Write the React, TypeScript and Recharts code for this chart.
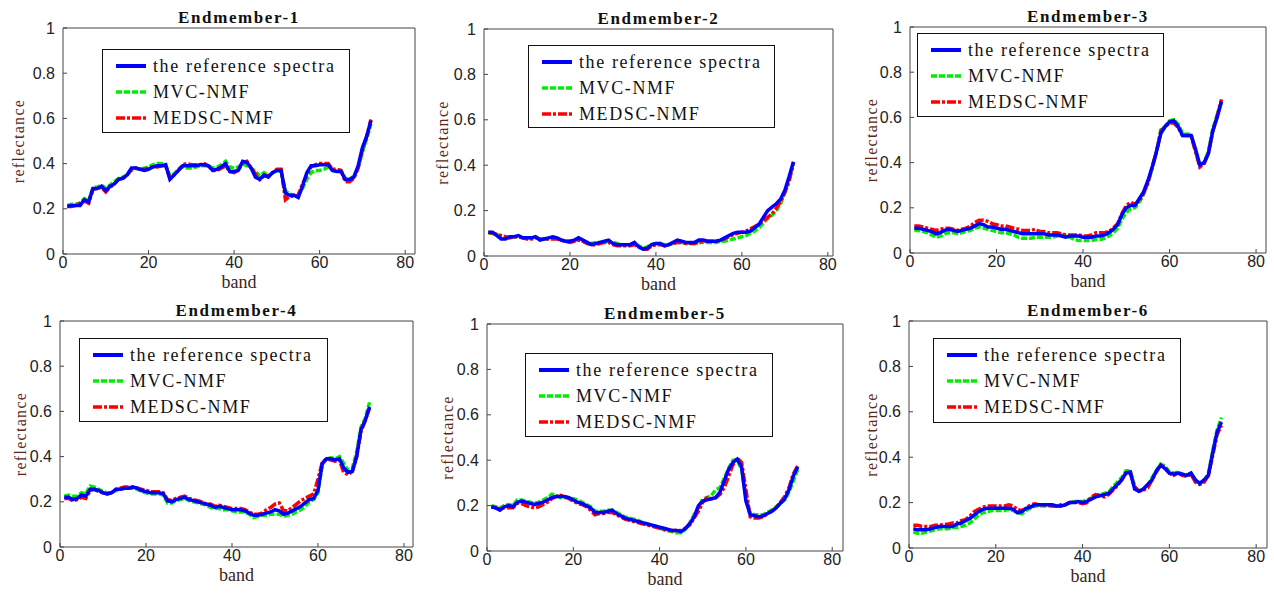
import React from 'react';
import { LineChart, Line, XAxis, YAxis } from 'recharts';

// ---------- data ----------
const bands = Array.from({ length: 72 }, (_, i) => i + 1);

const titles = ['Endmember-1', 'Endmember-2', 'Endmember-3', 'Endmember-4', 'Endmember-5', 'Endmember-6'];
const seriesNames = ['the reference spectra', 'MVC-NMF', 'MEDSC-NMF'];
const xTicks = [0, 20, 40, 60, 80];
const yTicks = [0, 0.2, 0.4, 0.6, 0.8, 1];

const ref1 = [0.21,0.215,0.215,0.215,0.24,0.23,0.29,0.29,0.30,0.28,0.30,0.31,0.33,0.335,0.35,0.38,0.38,0.375,0.37,0.375,0.385,0.39,0.39,0.395,0.33,0.35,0.37,0.39,0.39,0.39,0.39,0.395,0.395,0.39,0.37,0.375,0.385,0.40,0.365,0.365,0.37,0.41,0.405,0.38,0.34,0.33,0.35,0.34,0.36,0.37,0.37,0.27,0.26,0.26,0.25,0.30,0.36,0.39,0.39,0.395,0.395,0.395,0.37,0.365,0.365,0.33,0.33,0.34,0.39,0.47,0.52,0.59];
const mvc1 = [0.215,0.22,0.22,0.225,0.245,0.235,0.295,0.295,0.305,0.29,0.305,0.32,0.335,0.34,0.35,0.37,0.38,0.375,0.38,0.385,0.395,0.40,0.40,0.395,0.345,0.355,0.375,0.385,0.38,0.38,0.385,0.39,0.39,0.39,0.38,0.385,0.395,0.41,0.385,0.38,0.385,0.40,0.39,0.38,0.365,0.345,0.36,0.345,0.36,0.37,0.365,0.28,0.265,0.26,0.26,0.29,0.33,0.36,0.37,0.37,0.375,0.385,0.37,0.37,0.37,0.335,0.33,0.345,0.38,0.45,0.51,0.575];
const medsc1 = [0.21,0.21,0.215,0.225,0.235,0.225,0.285,0.29,0.295,0.275,0.295,0.31,0.33,0.335,0.35,0.375,0.38,0.375,0.375,0.38,0.385,0.385,0.39,0.39,0.335,0.35,0.37,0.395,0.40,0.395,0.395,0.395,0.40,0.39,0.37,0.37,0.38,0.39,0.365,0.36,0.37,0.405,0.41,0.38,0.355,0.33,0.345,0.345,0.36,0.375,0.375,0.24,0.255,0.255,0.26,0.31,0.35,0.385,0.395,0.40,0.40,0.40,0.375,0.375,0.37,0.32,0.32,0.335,0.38,0.46,0.52,0.595];

const ref2 = [0.105,0.105,0.09,0.075,0.075,0.085,0.085,0.09,0.08,0.08,0.08,0.085,0.07,0.075,0.08,0.085,0.08,0.07,0.065,0.065,0.07,0.08,0.07,0.06,0.05,0.055,0.06,0.065,0.07,0.055,0.05,0.05,0.05,0.05,0.06,0.04,0.03,0.035,0.05,0.055,0.055,0.045,0.05,0.06,0.07,0.065,0.06,0.06,0.06,0.07,0.07,0.065,0.065,0.065,0.07,0.08,0.09,0.10,0.105,0.105,0.105,0.11,0.125,0.14,0.17,0.20,0.215,0.23,0.25,0.29,0.35,0.415];
const mvc2 = [0.10,0.10,0.095,0.085,0.08,0.085,0.085,0.085,0.08,0.08,0.08,0.08,0.075,0.075,0.075,0.08,0.075,0.07,0.065,0.065,0.07,0.07,0.065,0.06,0.055,0.06,0.06,0.06,0.065,0.06,0.055,0.05,0.05,0.05,0.055,0.045,0.035,0.04,0.05,0.055,0.055,0.05,0.05,0.055,0.06,0.06,0.055,0.055,0.055,0.06,0.06,0.06,0.06,0.06,0.065,0.065,0.07,0.075,0.08,0.085,0.09,0.10,0.11,0.125,0.145,0.165,0.18,0.20,0.23,0.28,0.34,0.41];
const medsc2 = [0.105,0.10,0.095,0.09,0.085,0.08,0.085,0.085,0.08,0.075,0.075,0.08,0.075,0.075,0.075,0.075,0.075,0.07,0.065,0.06,0.065,0.07,0.065,0.055,0.05,0.05,0.055,0.06,0.06,0.05,0.045,0.045,0.045,0.045,0.05,0.04,0.03,0.03,0.045,0.05,0.05,0.045,0.05,0.055,0.06,0.06,0.055,0.055,0.055,0.06,0.065,0.065,0.065,0.065,0.07,0.075,0.085,0.095,0.10,0.105,0.11,0.12,0.13,0.14,0.155,0.17,0.185,0.21,0.24,0.28,0.33,0.41];

const ref3 = [0.11,0.11,0.105,0.10,0.095,0.085,0.09,0.10,0.105,0.10,0.095,0.10,0.105,0.11,0.12,0.13,0.125,0.115,0.115,0.11,0.105,0.105,0.10,0.095,0.09,0.085,0.085,0.085,0.085,0.085,0.085,0.08,0.08,0.08,0.075,0.07,0.075,0.075,0.075,0.07,0.07,0.07,0.075,0.075,0.08,0.09,0.105,0.125,0.17,0.20,0.21,0.21,0.24,0.27,0.32,0.38,0.45,0.53,0.56,0.58,0.585,0.56,0.52,0.52,0.52,0.46,0.39,0.40,0.44,0.54,0.60,0.67];
const mvc3 = [0.10,0.10,0.095,0.09,0.08,0.07,0.075,0.085,0.09,0.09,0.085,0.09,0.095,0.10,0.11,0.115,0.11,0.105,0.10,0.095,0.09,0.09,0.085,0.08,0.07,0.065,0.065,0.065,0.07,0.07,0.07,0.07,0.07,0.075,0.08,0.075,0.07,0.06,0.055,0.055,0.055,0.055,0.06,0.06,0.065,0.075,0.09,0.11,0.15,0.18,0.195,0.20,0.225,0.26,0.31,0.38,0.45,0.545,0.56,0.585,0.59,0.57,0.53,0.525,0.525,0.45,0.39,0.40,0.45,0.55,0.61,0.67];
const medsc3 = [0.12,0.12,0.115,0.11,0.105,0.10,0.105,0.11,0.11,0.105,0.10,0.105,0.11,0.12,0.135,0.145,0.145,0.14,0.13,0.125,0.12,0.12,0.115,0.11,0.105,0.10,0.10,0.10,0.105,0.095,0.095,0.09,0.09,0.09,0.085,0.08,0.08,0.08,0.08,0.075,0.075,0.08,0.09,0.09,0.09,0.095,0.11,0.13,0.175,0.21,0.225,0.215,0.23,0.265,0.31,0.38,0.45,0.54,0.56,0.575,0.575,0.555,0.52,0.52,0.515,0.45,0.38,0.395,0.445,0.54,0.605,0.68];

const ref4 = [0.22,0.22,0.21,0.215,0.23,0.225,0.255,0.255,0.25,0.24,0.235,0.24,0.255,0.255,0.26,0.26,0.265,0.26,0.25,0.245,0.24,0.24,0.24,0.235,0.205,0.20,0.21,0.215,0.22,0.21,0.205,0.20,0.195,0.19,0.185,0.175,0.18,0.175,0.17,0.165,0.165,0.165,0.16,0.15,0.14,0.14,0.145,0.15,0.155,0.165,0.16,0.145,0.15,0.16,0.17,0.18,0.195,0.21,0.215,0.25,0.37,0.39,0.39,0.385,0.39,0.35,0.33,0.335,0.40,0.52,0.56,0.62];
const mvc4 = [0.225,0.23,0.225,0.225,0.24,0.235,0.27,0.265,0.255,0.245,0.24,0.24,0.25,0.255,0.26,0.26,0.26,0.255,0.245,0.24,0.235,0.235,0.235,0.23,0.195,0.195,0.205,0.21,0.215,0.205,0.20,0.195,0.19,0.185,0.175,0.17,0.17,0.165,0.165,0.16,0.155,0.155,0.155,0.145,0.13,0.135,0.14,0.14,0.145,0.145,0.145,0.135,0.14,0.145,0.155,0.165,0.18,0.20,0.21,0.24,0.365,0.39,0.395,0.39,0.40,0.37,0.34,0.35,0.42,0.53,0.57,0.64];
const medsc4 = [0.215,0.215,0.205,0.21,0.22,0.215,0.25,0.255,0.245,0.24,0.235,0.24,0.255,0.26,0.265,0.265,0.265,0.26,0.255,0.25,0.245,0.245,0.245,0.24,0.21,0.205,0.215,0.22,0.225,0.215,0.21,0.205,0.20,0.19,0.19,0.18,0.185,0.18,0.175,0.17,0.17,0.17,0.165,0.155,0.145,0.145,0.15,0.165,0.175,0.19,0.195,0.16,0.16,0.175,0.19,0.205,0.215,0.225,0.235,0.30,0.375,0.39,0.385,0.38,0.385,0.33,0.32,0.335,0.40,0.51,0.56,0.615];

const ref5 = [0.195,0.19,0.18,0.195,0.20,0.195,0.215,0.22,0.215,0.21,0.205,0.21,0.215,0.225,0.235,0.24,0.24,0.24,0.235,0.225,0.215,0.21,0.20,0.19,0.17,0.17,0.17,0.175,0.18,0.165,0.155,0.145,0.14,0.135,0.13,0.125,0.12,0.115,0.11,0.105,0.10,0.095,0.09,0.09,0.085,0.10,0.12,0.15,0.20,0.22,0.225,0.23,0.235,0.26,0.31,0.36,0.39,0.405,0.37,0.22,0.16,0.155,0.15,0.155,0.165,0.175,0.19,0.21,0.23,0.27,0.33,0.37];
const mvc5 = [0.20,0.195,0.19,0.20,0.205,0.20,0.225,0.225,0.22,0.215,0.21,0.215,0.225,0.235,0.25,0.245,0.235,0.235,0.235,0.23,0.225,0.215,0.205,0.195,0.175,0.175,0.175,0.18,0.18,0.17,0.16,0.15,0.145,0.14,0.135,0.125,0.12,0.115,0.11,0.10,0.095,0.09,0.085,0.08,0.08,0.095,0.125,0.16,0.19,0.23,0.235,0.245,0.27,0.28,0.32,0.365,0.40,0.40,0.36,0.24,0.165,0.16,0.16,0.16,0.17,0.18,0.195,0.21,0.225,0.26,0.31,0.36];
const medsc5 = [0.195,0.19,0.185,0.19,0.19,0.19,0.21,0.21,0.20,0.195,0.19,0.195,0.205,0.215,0.23,0.24,0.245,0.24,0.23,0.22,0.21,0.205,0.195,0.18,0.16,0.165,0.165,0.17,0.17,0.16,0.15,0.14,0.135,0.13,0.125,0.12,0.115,0.11,0.105,0.10,0.095,0.09,0.09,0.09,0.09,0.10,0.115,0.145,0.175,0.215,0.235,0.23,0.235,0.25,0.28,0.33,0.38,0.41,0.39,0.27,0.15,0.145,0.145,0.15,0.165,0.175,0.19,0.215,0.24,0.28,0.34,0.375];

const ref6 = [0.085,0.08,0.08,0.08,0.085,0.09,0.095,0.095,0.095,0.095,0.105,0.11,0.12,0.13,0.145,0.16,0.17,0.175,0.175,0.175,0.175,0.175,0.175,0.17,0.155,0.16,0.175,0.18,0.19,0.19,0.19,0.19,0.19,0.185,0.185,0.19,0.20,0.20,0.205,0.20,0.205,0.215,0.225,0.23,0.235,0.24,0.26,0.28,0.30,0.33,0.335,0.26,0.25,0.26,0.28,0.30,0.34,0.365,0.35,0.33,0.325,0.33,0.325,0.32,0.33,0.30,0.285,0.30,0.32,0.42,0.51,0.555];
const mvc6 = [0.07,0.065,0.065,0.07,0.075,0.08,0.085,0.085,0.085,0.09,0.09,0.095,0.10,0.11,0.125,0.145,0.155,0.16,0.165,0.165,0.165,0.165,0.17,0.165,0.155,0.15,0.165,0.175,0.185,0.185,0.185,0.185,0.185,0.185,0.185,0.19,0.20,0.205,0.205,0.205,0.21,0.22,0.235,0.235,0.24,0.245,0.27,0.29,0.31,0.34,0.34,0.27,0.25,0.26,0.275,0.31,0.34,0.37,0.36,0.335,0.33,0.335,0.325,0.32,0.33,0.30,0.285,0.295,0.33,0.43,0.52,0.575];
const medsc6 = [0.10,0.10,0.095,0.095,0.095,0.10,0.10,0.105,0.105,0.11,0.11,0.12,0.125,0.14,0.16,0.17,0.18,0.185,0.185,0.185,0.185,0.185,0.19,0.185,0.17,0.165,0.175,0.19,0.195,0.19,0.19,0.19,0.185,0.185,0.19,0.19,0.20,0.20,0.20,0.195,0.20,0.225,0.235,0.23,0.225,0.235,0.255,0.275,0.30,0.33,0.33,0.27,0.25,0.255,0.265,0.30,0.335,0.365,0.355,0.33,0.32,0.33,0.32,0.315,0.325,0.29,0.28,0.29,0.32,0.41,0.50,0.54];

// ---------- layout ----------
const PANELS = [
  { title: titles[0], ref: ref1, mvc: mvc1, medsc: medsc1, box: { l: 63, t: 28, w: 352, h: 226 }, xMax: 82.3, leg: { l: 102, t: 49, w: 248, h: 84 }, yLab: 45 },
  { title: titles[1], ref: ref2, mvc: mvc2, medsc: medsc2, box: { l: 484, t: 29, w: 349, h: 227 }, xMax: 81.2, leg: { l: 528, t: 45, w: 247, h: 83 }, yLab: 42 },
  { title: titles[2], ref: ref3, mvc: mvc3, medsc: medsc3, box: { l: 910, t: 27, w: 356, h: 226 }, xMax: 82.3, leg: { l: 917, t: 33, w: 247, h: 84 }, yLab: 39 },
  { title: titles[3], ref: ref4, mvc: mvc4, medsc: medsc4, box: { l: 60, t: 321, w: 353, h: 226 }, xMax: 82.1, leg: { l: 79, t: 338, w: 249, h: 84 }, yLab: 40 },
  { title: titles[4], ref: ref5, mvc: mvc5, medsc: medsc5, box: { l: 487, t: 324, w: 356, h: 227 }, xMax: 82.5, leg: { l: 525, t: 353, w: 248, h: 84 }, yLab: 40 },
  { title: titles[5], ref: ref6, mvc: mvc6, medsc: medsc6, box: { l: 909, t: 321, w: 358, h: 227 }, xMax: 82.5, leg: { l: 933, t: 338, w: 248, h: 85 }, yLab: 38 },
];

const COLORS = { ref: '#0000ff', mvc: '#00ee00', medsc: '#ff0000' };
const DASH = { ref: undefined, mvc: '6 2', medsc: '9 2 3 2' };
const AXIS = '#444';
const TICK_FONT = { fontSize: 16, fill: '#222', fontFamily: '"Liberation Sans", Arial, sans-serif' };
const SERIF = '"Liberation Serif", "Times New Roman", serif';

// plot area offset inside each chart (axes are 1px thick boxes)
const PAD = { top: 30, left: 60, right: 10, bottom: 40 };
const MARGIN = { top: PAD.top - 1, left: PAD.left - 1, right: PAD.right - 1, bottom: PAD.bottom - 1 };

function LegendBox({ leg }: { leg: { l: number; t: number; w: number; h: number } }) {
  const rows = [
    { name: seriesNames[0], color: COLORS.ref, dash: DASH.ref, width: 4, y: 16 },
    { name: seriesNames[1], color: COLORS.mvc, dash: DASH.mvc, width: 3.5, y: 42 },
    { name: seriesNames[2], color: COLORS.medsc, dash: DASH.medsc, width: 3.5, y: 68 },
  ];
  return (
    <div
      style={{
        position: 'absolute', left: leg.l, top: leg.t, width: leg.w, height: leg.h,
        border: '1.5px solid #111', background: '#fff', boxSizing: 'border-box',
      }}
    >
      {rows.map((r) => (
        <React.Fragment key={r.name}>
          <svg style={{ position: 'absolute', left: 12, top: r.y - 5 }} width={32} height={10}>
            <line x1={1} y1={5} x2={31} y2={5} stroke={r.color} strokeWidth={r.width} strokeDasharray={r.dash} />
          </svg>
          <div
            style={{
              position: 'absolute', left: 50, top: r.y - 12, height: 24, lineHeight: '24px',
              fontFamily: SERIF, fontSize: 18, letterSpacing: 1.6, color: '#111', whiteSpace: 'nowrap',
            }}
          >
            {r.name}
          </div>
        </React.Fragment>
      ))}
    </div>
  );
}

function Panel({ p }: { p: (typeof PANELS)[number] }) {
  const data = bands.map((b, i) => ({ band: b, ref: p.ref[i], mvc: p.mvc[i], medsc: p.medsc[i] }));
  const W = p.box.w + PAD.left + PAD.right;
  const H = p.box.h + PAD.top + PAD.bottom;
  return (
    <>
      <div style={{ position: 'absolute', left: p.box.l - PAD.left, top: p.box.t - PAD.top }}>
        <LineChart width={W} height={H} data={data} margin={MARGIN}>
          <XAxis
            dataKey="band" type="number" domain={[0, p.xMax]} ticks={xTicks} interval={0}
            allowDataOverflow height={1} tickSize={-4} tickMargin={7}
            axisLine={{ stroke: AXIS }} tickLine={{ stroke: AXIS }} tick={TICK_FONT}
            label={{ value: 'band', position: 'bottom', offset: 20, style: { fontFamily: SERIF, fontSize: 18, fill: '#3a2418' } }}
          />
          <XAxis
            xAxisId="top" orientation="top" type="number" domain={[0, p.xMax]} ticks={xTicks} interval={0}
            allowDataOverflow height={1} tickSize={-4} tick={false}
            axisLine={{ stroke: AXIS }} tickLine={{ stroke: AXIS }}
            label={{ value: p.title, position: 'top', offset: 4, style: { fontFamily: SERIF, fontSize: 17, fontWeight: 'bold', letterSpacing: 1.6, fill: '#111' } }}
          />
          <YAxis
            type="number" domain={[0, 1]} ticks={yTicks} interval={0} width={1}
            tickSize={-4} tickMargin={12}
            axisLine={{ stroke: AXIS }} tickLine={{ stroke: AXIS }} tick={TICK_FONT}
            label={{ value: 'reflectance', angle: -90, position: 'left', offset: p.yLab - 1, style: { textAnchor: 'middle', fontFamily: SERIF, fontSize: 16, letterSpacing: 1.3, fill: '#5a2818' } }}
          />
          <YAxis
            yAxisId="right" orientation="right" type="number" domain={[0, 1]} ticks={yTicks} interval={0} width={1}
            tickSize={-4} tick={false} axisLine={{ stroke: AXIS }} tickLine={{ stroke: AXIS }}
          />
          <Line dataKey="mvc" type="linear" stroke={COLORS.mvc} strokeWidth={3.5} strokeDasharray={DASH.mvc} dot={false} isAnimationActive={false} />
          <Line dataKey="medsc" type="linear" stroke={COLORS.medsc} strokeWidth={3.5} strokeDasharray={DASH.medsc} dot={false} isAnimationActive={false} />
          <Line dataKey="ref" type="linear" stroke={COLORS.ref} strokeWidth={3.5} dot={false} isAnimationActive={false} />
        </LineChart>
      </div>
      <LegendBox leg={p.leg} />
    </>
  );
}

export default function App() {
  return (
    <div style={{ position: 'absolute', left: 0, top: 0, width: 1274, height: 593, background: '#fff', overflow: 'hidden' }}>
      {PANELS.map((p) => (
        <Panel key={p.title} p={p} />
      ))}
    </div>
  );
}
